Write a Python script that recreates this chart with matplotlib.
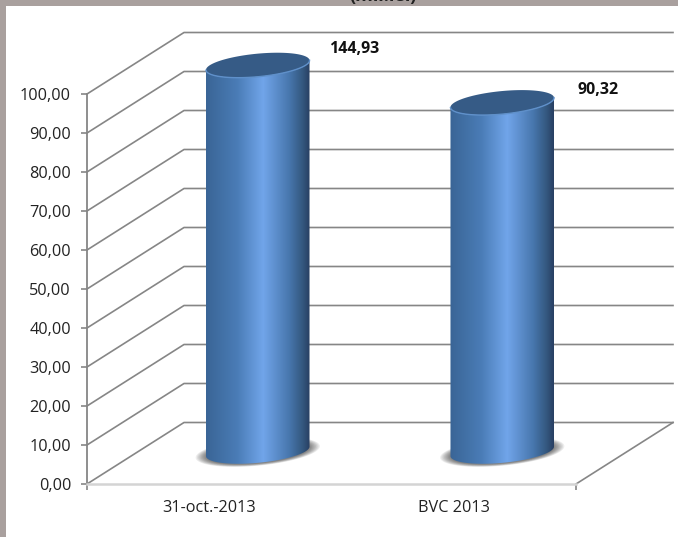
import numpy as np
import matplotlib.pyplot as plt
from matplotlib.colors import LinearSegmentedColormap
from matplotlib.patches import Polygon, Rectangle

categories = ["31-oct.-2013", "BVC 2013"]
values = [144.93, 90.32]
value_labels = ["144,93", "90,32"]
y_ticks = [0, 10, 20, 30, 40, 50, 60, 70, 80, 90, 100]
y_tick_labels = ["0,00", "10,00", "20,00", "30,00", "40,00", "50,00",
                 "60,00", "70,00", "80,00", "90,00", "100,00"]
y_max = 100

plt.rcParams["font.family"] = ["Open Sans", "DejaVu Sans"]

W, H = 678, 537
# plot box of the front plane, in pixels
LEFT, RIGHT, BOTTOM, TOP = 87, 576, 484, 94
px_x = (RIGHT - LEFT) / 2
px_y = (BOTTOM - TOP) / y_max
depth_x = 97 / px_x
depth_y = 61.5 / px_y

fig = plt.figure(figsize=(W / 100, H / 100), dpi=100, facecolor="white")

# grey window border on top and left
band = "#a9a09e"
fig.patches.append(Rectangle((0, 1 - 6 / H), 1, 6 / H, transform=fig.transFigure, color=band, lw=0))
fig.patches.append(Rectangle((0, 0), 6 / W, 1, transform=fig.transFigure, color=band, lw=0))
fig.text(383 / W, 1 - 5.5 / H, "(mil.lei)", ha="center", va="bottom", fontsize=13,
         fontweight="bold", color="#222222", family=["Open Sans", "DejaVu Sans"])

ax = fig.add_axes([LEFT / W, (H - BOTTOM) / H, (RIGHT - LEFT) / W, (BOTTOM - TOP) / H])
ax.set_xlim(0, 2)
ax.set_ylim(0, y_max)
ax.patch.set_alpha(0)

for s in ["top", "right"]:
    ax.spines[s].set_visible(False)
ax.spines["left"].set_color("#868686")
ax.spines["left"].set_linewidth(1.3)
ax.spines["bottom"].set_color("#d4d4d4")
ax.spines["bottom"].set_linewidth(1.8)

ax.set_yticks(y_ticks)
ax.set_yticklabels(y_tick_labels, fontsize=11.7, color="#222222")
ax.set_xticks([0, 2])
ax.set_xticklabels(["", ""])
ax.set_xticks([0.5, 1.5], minor=True)
ax.set_xticklabels(categories, minor=True, fontsize=11.7, color="#222222")
ax.tick_params(axis="y", length=4, width=1.2, color="#868686", pad=7.5)
ax.tick_params(axis="x", which="major", length=4, width=1.2, color="#868686")
ax.tick_params(axis="x", which="minor", length=0, pad=11.5)

grid = "#868686"
for t in y_ticks:
    ax.plot([0, depth_x, 2 + depth_x], [t, t + depth_y, t + depth_y],
            color=grid, lw=1.2, clip_on=False, zorder=1)
ax.plot([2, 2 + depth_x], [0, depth_y], color=grid, lw=1.2, clip_on=False, zorder=1)

cyl_cmap = LinearSegmentedColormap.from_list("cyl", [
    (0.0, "#3a6596"), (0.3, "#4a7cb6"), (0.55, "#71a5ea"),
    (0.8, "#4877ae"), (0.93, "#34587f"), (1.0, "#283f62"),
])
gradient = np.linspace(0, 1, 256).reshape(1, -1)

a_px, b_px, tilt = 52, 11.5, np.radians(5.5)
t = np.linspace(0, 2 * np.pi, 200)


def ellipse(cx, cy, scale=1.0, t=t):
    dx = scale * (a_px * np.cos(t) * np.cos(tilt) - b_px * np.sin(t) * np.sin(tilt))
    dy = scale * (a_px * np.cos(t) * np.sin(tilt) + b_px * np.sin(t) * np.cos(tilt))
    return cx + dx / px_x, cy + dy / px_y


for i, v in enumerate(values):
    cx = i + 0.5 + depth_x / 2
    base = depth_y / 2 + 0.5
    top = base + 0.99 * min(v, y_max)

    # soft shadow on the floor
    for s in np.linspace(1.2, 1.0, 9):
        sx, sy = ellipse(cx, base - 0.15, s)
        ax.fill(sx, sy, color="black", alpha=0.07, lw=0, clip_on=False, zorder=2)

    # body: gradient clipped to the cylinder outline
    lower = np.linspace(np.pi, 2 * np.pi, 100)
    bx, by = ellipse(cx, base, t=lower)
    tx, ty = ellipse(cx, top, t=lower[::-1])
    outline = Polygon(np.column_stack([np.r_[bx, tx], np.r_[by, ty]]),
                      transform=ax.transData, facecolor="none", edgecolor="none")
    ax.add_patch(outline)
    half = a_px * np.cos(tilt) / px_x
    img = ax.imshow(gradient, cmap=cyl_cmap, aspect="auto", zorder=3,
                    extent=[cx - half, cx + half, base - 5, top + 5])
    img.set_clip_box(fig.bbox)
    img.set_clip_path(outline)

    # top face and light rim
    ex, ey = ellipse(cx, top)
    ax.fill(ex, ey, color="#365b86", lw=0, clip_on=False, zorder=4)
    rx, ry = ellipse(cx, top, t=lower)
    ax.plot(rx, ry, color="#5f90ca", lw=1.0, clip_on=False, zorder=4)

    ax.annotate(value_labels[i], (cx, top), xytext=(96, 16 - 3 * i), textcoords="offset pixels",
                ha="center", va="center", fontsize=11.5, fontweight="bold",
                color="#111111", annotation_clip=False, zorder=5)

ax.set_xlim(0, 2)
ax.set_ylim(0, y_max)

plt.savefig("out.png", dpi=100)
plt.close()
